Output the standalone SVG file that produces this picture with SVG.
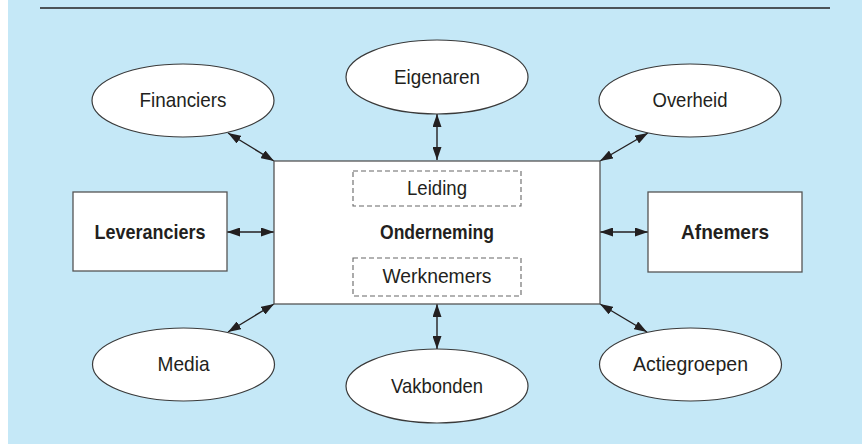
<svg xmlns="http://www.w3.org/2000/svg" width="862" height="444" viewBox="0 0 862 444">
  <style>
    .node { fill: #ffffff; stroke: #3a3a3a; stroke-width: 1.2; }
    .box { fill: #ffffff; stroke: #555555; stroke-width: 1.3; }
    .dash { fill: none; stroke: #666666; stroke-width: 1.1; stroke-dasharray: 5 3; }
    .lbl { font-family: "Liberation Sans", Arial, sans-serif; font-size: 21px; fill: #231f20; text-anchor: middle; }
    .bold { font-weight: bold; font-size: 20.5px; }
    .conn { stroke: #231f20; stroke-width: 1.4; fill: none; marker-start: url(#head); marker-end: url(#head); }
  </style>
  <defs>
    <marker id="head" viewBox="0 0 13 9" refX="13" refY="4.5" markerWidth="13" markerHeight="9" markerUnits="userSpaceOnUse" orient="auto-start-reverse">
      <path d="M0,0 L13,4.5 L0,9 Z" fill="#231f20"/>
    </marker>
  </defs>

  <!-- background panel and header rule -->
  <rect x="8" y="0" width="854" height="444" fill="#c5e8f7"/>
  <line x1="40" y1="8" x2="830" y2="8" stroke="#222222" stroke-width="1.6"/>

  <!-- connectors -->
  <g id="connectors">
    <line class="conn" x1="228" y1="133" x2="274" y2="161"/>
    <line class="conn" x1="437" y1="114" x2="437" y2="160"/>
    <line class="conn" x1="648" y1="133" x2="600" y2="161"/>
    <line class="conn" x1="227" y1="232" x2="274" y2="232"/>
    <line class="conn" x1="600" y1="232" x2="648" y2="232"/>
    <line class="conn" x1="228" y1="332" x2="274" y2="304"/>
    <line class="conn" x1="437" y1="304" x2="437" y2="349"/>
    <line class="conn" x1="647" y1="332" x2="600" y2="304"/>
  </g>

  <!-- central organisation -->
  <g id="onderneming">
    <rect class="box" x="274" y="161" width="326" height="143"/>
    <rect class="dash" x="353" y="171" width="168" height="35"/>
    <text class="lbl" x="437" y="195" textLength="60" lengthAdjust="spacingAndGlyphs">Leiding</text>
    <text class="lbl bold" x="437" y="239" textLength="114" lengthAdjust="spacingAndGlyphs">Onderneming</text>
    <rect class="dash" x="353" y="258" width="168" height="38"/>
    <text class="lbl" x="437" y="283" textLength="109" lengthAdjust="spacingAndGlyphs">Werknemers</text>
  </g>

  <g id="financiers">
    <ellipse class="node" cx="183" cy="100.5" rx="91" ry="36.5"/>
    <text class="lbl" x="183" y="106.5" textLength="87" lengthAdjust="spacingAndGlyphs">Financiers</text>
  </g>
  <g id="eigenaren">
    <ellipse class="node" cx="437" cy="77" rx="91" ry="37"/>
    <text class="lbl" x="437" y="83.5" textLength="86" lengthAdjust="spacingAndGlyphs">Eigenaren</text>
  </g>
  <g id="overheid">
    <ellipse class="node" cx="690" cy="100.5" rx="91" ry="36.5"/>
    <text class="lbl" x="690" y="106.5" textLength="75" lengthAdjust="spacingAndGlyphs">Overheid</text>
  </g>
  <g id="leveranciers">
    <rect class="box" x="73" y="192" width="154" height="79"/>
    <text class="lbl bold" x="150" y="238.5" textLength="111" lengthAdjust="spacingAndGlyphs">Leveranciers</text>
  </g>
  <g id="afnemers">
    <rect class="box" x="648" y="192" width="154" height="80"/>
    <text class="lbl bold" x="725" y="238.5" textLength="88" lengthAdjust="spacingAndGlyphs">Afnemers</text>
  </g>
  <g id="media">
    <ellipse class="node" cx="183.5" cy="364.5" rx="91" ry="36.5"/>
    <text class="lbl" x="183.5" y="370.5" textLength="52" lengthAdjust="spacingAndGlyphs">Media</text>
  </g>
  <g id="vakbonden">
    <ellipse class="node" cx="437" cy="386" rx="91" ry="37"/>
    <text class="lbl" x="437" y="392.5" textLength="92" lengthAdjust="spacingAndGlyphs">Vakbonden</text>
  </g>
  <g id="actiegroepen">
    <ellipse class="node" cx="690.5" cy="364.5" rx="91" ry="36.5"/>
    <text class="lbl" x="690.5" y="370.5" textLength="115" lengthAdjust="spacingAndGlyphs">Actiegroepen</text>
  </g>
</svg>
